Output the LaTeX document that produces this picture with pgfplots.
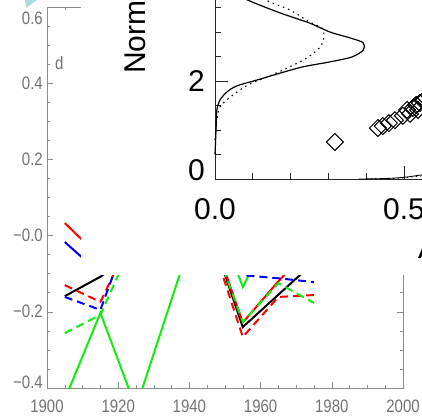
\documentclass[border=0pt]{standalone}
\usepackage{graphicx}
\usepackage{pgfplots}
\pgfplotsset{compat=1.18}
\usepackage{fontspec}
\setmainfont{Liberation Sans}

\definecolor{axgray}{RGB}{140,140,140}
\definecolor{labgray}{RGB}{115,115,115}
\definecolor{grn}{RGB}{20,235,20}
\definecolor{corner}{RGB}{170,220,226}

% tick labels of the time-series panel are set slightly condensed
\newcommand{\tall}[1]{\scalebox{1}[1.2]{#1}}
% end labels of the y axis are moved inwards, away from the corners
\newcommand{\movedlabel}[2]{\smash{\raisebox{#1}{\tall{#2}}}}

\begin{document}
\begin{tikzpicture}[x=1pt,y=1pt]
\path[use as bounding box] (0,0) rectangle (422,418);
\clip (0,0) rectangle (422,418);

\fill[corner] (25,418) -- (37,418) -- (26,410) -- cycle;

% ---- time series, 1900-2000 ----
\begin{axis}[
  at={(47pt,30pt)}, anchor=south west,
  scale only axis, width=356pt, height=381pt,
  xmin=1900, xmax=2000, ymin=-0.4, ymax=0.6,
  xtick={1900,1920,1940,1960,1980,2000},
  xticklabels={\tall{1900},\tall{1920},\tall{1940},\tall{1960},\tall{1980},\tall{2000}},
  minor x tick num=3,
  ytick={-0.2,0,0.2,0.4},
  yticklabels={\tall{−0.2},\tall{−0.0},\tall{0.2},\tall{0.4}},
  minor ytick={-0.35,-0.3,-0.25,-0.15,-0.1,-0.05,0.05,0.1,0.15,0.25,0.3,0.35,0.45,0.5,0.55},
  extra y ticks={-0.4,0.6},
  extra y tick labels={\movedlabel{-0.5pt}{−0.4},\movedlabel{-17.5pt}{0.6}},
  tick align=inside,
  major tick length=6pt, minor tick length=3pt,
  axis line style={axgray, line width=0.8pt},
  tick style={axgray, line width=0.6pt},
  xticklabel style={anchor=north, inner sep=0pt, yshift=-12pt,
    font=\fontsize{15}{15}\selectfont, text=labgray},
  yticklabel style={anchor=east, inner sep=0pt, xshift=-4pt,
    font=\fontsize{15}{15}\selectfont, text=labgray},
  clip=true,
]
\addplot[black, line width=2pt] coordinates {
  (1905,-0.159) (1915,-0.108) (1925,-0.04) (1935,0.02) (1945,0.034)
  (1955,-0.240) (1965,-0.155) (1975,-0.07)};
\addplot[red, line width=2pt] coordinates {
  (1905,0.033) (1915,-0.058) (1925,0.0) (1935,0.05) (1945,0.04)
  (1955,-0.228) (1965,-0.12) (1975,-0.02)};
\addplot[blue, line width=2pt] coordinates {
  (1905,-0.017) (1915,-0.10) (1925,0.02) (1935,0.06) (1945,0.08)
  (1955,0.0) (1965,0.02) (1975,-0.05)};
\addplot[grn, line width=2pt] coordinates {
  (1905,-0.43) (1915,-0.203) (1925,-0.452) (1935,-0.167) (1945,0.116)
  (1955,-0.135) (1965,0.05) (1975,0.0)};
\addplot[red, line width=2pt, dash pattern=on 8pt off 5pt] coordinates {
  (1905,-0.130) (1915,-0.174) (1925,0.02) (1935,0.0) (1945,0.02)
  (1955,-0.266) (1965,-0.161) (1975,-0.156)};
\addplot[blue, line width=2pt, dash pattern=on 8pt off 5pt] coordinates {
  (1905,-0.161) (1915,-0.195) (1925,0.06) (1935,0.03) (1945,0.0)
  (1955,-0.104) (1965,-0.112) (1975,-0.122)};
\addplot[grn, line width=2pt, dash pattern=on 8pt off 5pt] coordinates {
  (1905,-0.256) (1915,-0.208) (1925,0.0) (1935,0.02) (1945,0.03)
  (1955,-0.227) (1965,-0.125) (1975,-0.177)};
\end{axis}
\node[anchor=base west, inner sep=0pt, text=labgray,
  font=\fontsize{15}{15}\selectfont] at (55,348) {\tall{d}};

% ---- inset: albedo distribution ----
\fill[white] (81,143) rectangle (423,419);
\begin{axis}[
  at={(215pt,239pt)}, anchor=south west,
  scale only axis, width=378pt, height=196pt,
  xmin=0, xmax=1, ymin=0, ymax=4,
  xtick={0,0.5,1}, xticklabels={0.0,0.5,1.0},
  minor xtick={0.1,0.2,0.3,0.4,0.6,0.7,0.8,0.9},
  ytick={2,4}, yticklabels={2,4},
  extra y ticks={0}, extra y tick labels={0},
  extra y tick style={yticklabel style={yshift=9pt}},
  minor ytick={0.5,1,1.5,2.5,3,3.5},
  tick align=inside,
  major tick length=13pt, minor tick length=6pt,
  axis line style={black!85, line width=1pt},
  tick style={black!85, line width=0.8pt},
  xticklabel style={anchor=north, inner sep=0pt, yshift=-19pt,
    font=\fontsize{30}{30}\selectfont},
  yticklabel style={anchor=east, inner sep=0pt, xshift=-10pt,
    font=\fontsize{30}{30}\selectfont},
  xlabel={Albedo},
  xlabel style={at={(axis description cs:0.537,0)}, anchor=base west,
    inner sep=0pt, yshift=-79pt, font=\fontsize{30}{30}\selectfont},
  ylabel={Normalized frequency},
  ylabel style={at={(axis description cs:-0.185,0.536)}, anchor=base west,
    inner sep=0pt, font=\fontsize{30}{30}\selectfont},
  clip=false,
]
\addplot[black, line width=1.2pt, smooth, tension=0.5] coordinates {
  (0.000,0.5) (0.003,1.06) (0.005,1.41) (0.013,1.61) (0.032,1.78)
  (0.058,1.90) (0.111,2.02) (0.172,2.16) (0.233,2.29) (0.304,2.39)
  (0.362,2.49) (0.392,2.63) (0.392,2.78) (0.357,2.88) (0.304,3.0)
  (0.251,3.18) (0.172,3.39) (0.087,3.65) (0.04,3.85) (0.01,4.1)};
\addplot[black, line width=1.1pt, smooth, tension=0.5, dash pattern=on 1.5pt off 4pt] coordinates {
  (0.000,0.8) (0.005,1.20) (0.013,1.47) (0.040,1.67) (0.087,1.92)
  (0.138,2.08) (0.198,2.29) (0.243,2.47) (0.278,2.69) (0.288,2.90)
  (0.283,3.08) (0.251,3.20) (0.198,3.45) (0.146,3.61) (0.08,3.85) (0.02,4.2)};
\addplot[black, line width=0.8pt, smooth] coordinates {
  (0.38,0) (0.45,0.01) (0.5,0.035) (0.55,0.09) (0.6,0.18)};
\addplot[black, line width=0.8pt, smooth, dash pattern=on 1.5pt off 3pt] coordinates {
  (0.40,0) (0.47,0.01) (0.52,0.04) (0.56,0.08) (0.6,0.14)};
\addplot[only marks, mark=square, mark size=6pt,
  mark options={rotate=45, black, line width=1pt}] coordinates {
  (0.317,0.755) (0.431,1.04) (0.444,1.08) (0.460,1.14) (0.476,1.20)
  (0.497,1.29) (0.508,1.41) (0.516,1.33) (0.524,1.45) (0.532,1.51)
  (0.537,1.41) (0.542,1.55) (0.553,1.61) (0.569,1.69) (0.58,1.75)};
\end{axis}
\end{tikzpicture}
\end{document}
